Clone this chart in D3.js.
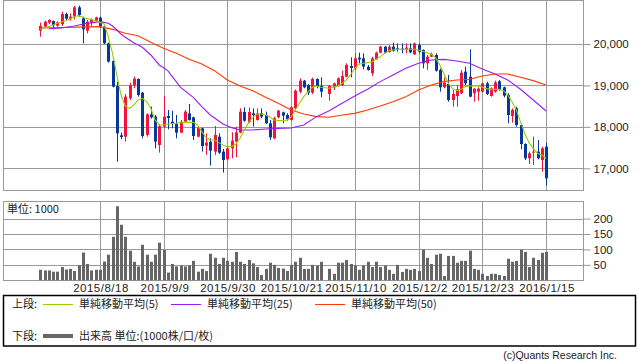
<!DOCTYPE html>
<html>
<head>
<meta charset="utf-8">
<title>日経平均 日足チャート</title>
<script src="https://cdn.jsdelivr.net/npm/d3@7"></script>
<style>
  body { margin: 0; background: #fff; }
  svg text { font-family: "Liberation Sans", Arial, sans-serif; fill: #222; }
  .jp { font-family: "Noto Sans CJK JP", sans-serif; }
</style>
</head>
<body>
<svg id="chart" width="638" height="362"></svg>
<script>
// daily candles, one slot per bar (slot 67 has no trade)
var opens = [20322,20419,20515,20555,20443,20483,20724,20604,20660,20885,
  20620,20322,20515,20563,20636,20419,20016,19590,18987,17797,
  17764,18689,19003,19156,18826,17805,18303,18247,17563,18006,
  18263,18126,18070,17861,18126,18327,18231,17764,17965,17547,
  17644,17403,17764,17403,17217,17483,17644,17861,18360,18118,
  18327,18167,18327,18287,18086,17724,18231,18351,18287,18167,
  18448,18850,19116,19011,18826,19156,18987,null,18794,18955,
  18987,19011,19212,19469,19413,19671,19654,19453,19292,19630,
  19791,19936,19807,19936,19896,19888,19872,19896,19751,19976,
  19855,19534,19695,19735,19373,18955,19035,18649,18746,18810,
  19333,19212,18810,18850,18850,19051,18746,18850,19100,18955,
  18770,18263,18448,18046,17587,17242,17378,17403,17201,17523];
var highs = [20515,20563,20596,20563,20547,20780,20756,20740,20917,20925,
  20660,20579,20620,20660,20660,20459,20032,19614,19092,17861,
  18794,19067,19212,19172,18842,18327,18488,18287,18070,18746,
  18408,18392,18287,18167,18408,18553,18247,18006,17982,17845,
  17724,18022,17845,17467,17523,17869,18006,18448,18472,18472,
  18448,18448,18448,18368,18167,18247,18408,18368,18327,18504,
  18906,19172,19132,19035,19188,19172,19196,null,19011,19067,
  19196,19357,19534,19679,19775,19791,19775,19494,19695,19815,
  19952,19952,19976,20032,20016,20016,20016,20016,20032,20016,
  19872,19735,19791,19775,19413,19196,19252,18890,19011,19373,
  19453,19872,18931,18955,19067,19092,18955,19116,19132,18971,
  18810,18448,18488,18086,17604,17403,17764,17684,17523,17620];
var lows = [20177,20386,20483,20354,20419,20435,20579,20563,20596,20660,
  20016,20258,20435,20539,20386,20000,19550,18955,17161,17700,
  17644,18649,18931,18730,17724,17764,18199,17483,17378,17965,
  17941,17965,17724,17845,18102,18150,17684,17748,17403,17322,
  17065,17322,17346,16896,17185,17242,17266,17845,18126,18086,
  18006,18150,18207,18070,17684,17700,18207,18086,18150,18150,
  18424,18810,18931,18770,18794,18931,18713,null,18633,18890,
  18971,18987,19196,19196,19373,19534,19389,19357,19228,19614,
  19775,19775,19791,19815,19815,19775,19775,19775,19735,19775,
  19413,19373,19679,19333,18850,18931,18609,18488,18488,18794,
  19011,18713,18609,18633,18826,18770,18730,18826,18874,18713,
  18086,18102,18006,17459,17201,17105,17081,17217,16920,16582];
var closes = [20435,20539,20579,20451,20523,20724,20612,20660,20885,20700,
  20354,20539,20596,20644,20419,20016,19574,18971,17845,17756,
  18730,19011,19164,18770,17780,18303,18231,17644,18022,18247,
  18215,18070,17861,18126,18368,18167,17780,17982,17539,17620,
  17427,17805,17378,17201,17483,17668,17869,18368,18150,18360,
  18287,18327,18247,18086,17748,18207,18392,18271,18183,18472,
  18874,19116,18955,18826,19156,18987,18850,null,18987,19051,
  19172,19228,19494,19421,19654,19630,19453,19373,19654,19791,
  19936,19791,19936,19839,19872,19855,19912,19799,20016,19815,
  19534,19695,19759,19357,18955,19067,18649,18794,18906,19309,
  19051,18730,18923,18923,19051,18794,18931,19075,18890,18754,
  18287,18408,18046,17587,17242,17362,17403,17242,17483,16759];
// volume, unit 1000
var volumes = [34,32,32,28,28,43,35,37,30,49,
  90,53,32,34,34,61,83,141,240,180,
  141,96,60,45,115,83,60,83,122,99,
  25,53,45,48,45,48,63,28,37,30,
  86,73,53,73,63,60,92,60,53,66,
  55,43,17,37,57,50,40,38,30,50,
  60,73,37,37,50,48,60,null,37,21,
  57,57,66,53,48,34,48,60,43,60,
  43,48,34,21,50,27,37,34,37,30,
  99,73,53,83,86,14,79,79,57,63,
  63,96,37,34,21,14,21,21,17,14,
  70,60,63,99,92,43,73,66,89,92];

// moving averages: [slot, value]
var ma5 = [[0,20354],[2,20419],[4,20499],[6,20563],[8,20660],[9,20684],[11,20612],[13,20563],
  [15,20483],[16,20177],[17,19775],[18,19252],[19,18770],[20,18504],[21,18448],[22,18528],
  [23,18649],[24,18689],[25,18609],[26,18448],[27,18167],[28,18046],[29,18046],[30,18070],
  [32,18086],[34,18110],[36,18110],[37,18046],[38,17885],[39,17748],[40,17684],[41,17684],
  [42,17620],[43,17563],[44,17523],[45,17523],[46,17587],[47,17724],[48,17925],[49,18102],
  [50,18231],[51,18311],[52,18311],[53,18287],[54,18247],[55,18167],[56,18150],[57,18150],
  [58,18167],[59,18231],[60,18408],[61,18569],[62,18730],[63,18850],[64,18955],[65,18987],
  [66,18955],[68,18931],[70,18987],[71,19051],[72,19132],[73,19252],[74,19413],[75,19510],
  [76,19534],[77,19550],[78,19566],[79,19630],[80,19695],[81,19775],[82,19839],[83,19855],
  [84,19872],[86,19872],[88,19872],[89,19855],[90,19823],[91,19791],[92,19751],[93,19671],
  [94,19494],[95,19276],[96,19051],[97,18923],[98,18874],[99,18906],[100,18971],[101,18987],
  [103,18987],[104,18955],[105,18923],[106,18906],[107,18906],[108,18906],[109,18874],
  [110,18770],[111,18609],[112,18408],[113,18126],[114,17845],[115,17620],[116,17483],
  [117,17362],[118,17322],[119,17242]];
var ma25 = [[2,20370],[5,20386],[8,20435],[11,20499],[14,20539],[16,20499],[17,20435],
  [18,20338],[19,20242],[20,20161],[22,20032],[24,19920],[26,19735],[28,19494],[30,19357],
  [33,18955],[36,18713],[38,18488],[40,18287],[43,18070],[45,17982],[47,17925],[50,17925],
  [53,17949],[56,17965],[59,17973],[62,18046],[65,18247],[68,18391],[71,18569],[74,18746],
  [77,18906],[80,19092],[83,19252],[86,19413],[89,19534],[92,19614],[95,19630],[98,19590],
  [101,19534],[104,19397],[107,19276],[110,19132],[113,18907],[116,18649],[119,18384]];
var ma50 = [[0,20386],[14,20419],[17,20354],[20,20258],[23,20201],[26,20040],[29,19896],
  [32,19775],[35,19630],[38,19518],[41,19357],[44,19132],[47,18987],[50,18874],[53,18713],
  [56,18569],[59,18408],[62,18311],[65,18247],[68,18231],[71,18287],[74,18327],[77,18408],
  [80,18504],[83,18609],[86,18730],[89,18890],[92,19011],[95,19092],[98,19132],[101,19148],
  [104,19228],[107,19276],[110,19276],[113,19196],[116,19116],[119,19011]];

var tickSlots = [14, 29, 44, 59, 74, 89, 104, 119];
var tickLabels = ["2015/8/18", "2015/9/9", "2015/9/30", "2015/10/21",
                  "2015/11/10", "2015/12/2", "2015/12/23", "2016/1/15"];
var priceTicks = [17000, 18000, 19000, 20000];
var volumeTicks = [50, 100, 150, 200];

var legendTop = ["単純移動平均(5)", "単純移動平均(25)", "単純移動平均(50)"];
var legendBottom = "出来高 単位:(1000株/口/枚)";

var upColor = "#f5123f", downColor = "#06389c";
var maColors = ["#99cc00", "#9a1cf0", "#ff3a00"];
var gridColor = "#999";

var svg = d3.select("#chart");
var left = 3.5, right = 583.5;
var mainTop = 0.5, mainBottom = 190.5;
var volTop = 201.5, volBottom = 280.5;

var x = d3.scaleLinear().domain([0, 119]).range([40.3, 546]);
var y = d3.scaleLinear().domain([16477, 21062]).range([190, 0]);
var yv = d3.scaleLinear().domain([0, 257]).range([280.3, 201]);
function px(i) { return Math.round(x(i)); }

// ---- frames and grid
var grid = svg.append("g").attr("stroke", gridColor).attr("stroke-width", 1).attr("fill", "none");
grid.selectAll(".hp").data(priceTicks).enter().append("line")
  .attr("x1", left).attr("x2", right)
  .attr("y1", function(d) { return Math.round(y(d)) + 0.5; })
  .attr("y2", function(d) { return Math.round(y(d)) + 0.5; });
grid.selectAll(".hv").data(volumeTicks).enter().append("line")
  .attr("x1", left).attr("x2", right)
  .attr("y1", function(d) { return Math.round(yv(d)) + 0.5; })
  .attr("y2", function(d) { return Math.round(yv(d)) + 0.5; });
grid.selectAll(".vm").data(tickSlots).enter().append("line")
  .attr("x1", function(d) { return px(d) + 0.5; }).attr("x2", function(d) { return px(d) + 0.5; })
  .attr("y1", mainTop).attr("y2", mainBottom);
grid.selectAll(".vv").data(tickSlots).enter().append("line")
  .attr("x1", function(d) { return px(d) + 0.5; }).attr("x2", function(d) { return px(d) + 0.5; })
  .attr("y1", volTop).attr("y2", volBottom);
grid.append("rect").attr("x", left).attr("y", mainTop)
  .attr("width", right - left).attr("height", mainBottom - mainTop);
grid.append("rect").attr("x", left).attr("y", volTop)
  .attr("width", right - left).attr("height", volBottom - volTop);

// ---- right axes
var pAxis = svg.append("g").attr("transform", "translate(" + right + ",0)")
  .call(d3.axisRight(y).tickValues(priceTicks).tickSize(7).tickPadding(3).tickFormat(d3.format(",")));
var vAxis = svg.append("g").attr("transform", "translate(" + right + ",0)")
  .call(d3.axisRight(yv).tickValues(volumeTicks).tickSize(7).tickPadding(3));
[pAxis, vAxis].forEach(function(a) {
  a.select(".domain").remove();
  a.selectAll(".tick line").attr("stroke", gridColor);
  a.selectAll(".tick text").attr("font-size", "11.5px").attr("fill", "#222")
    .attr("font-family", "'Liberation Sans', Arial, sans-serif");
});

// ---- candles
var idx = d3.range(opens.length).filter(function(i) { return opens[i] != null; });
var candles = svg.append("g");
candles.selectAll(".wick").data(idx).enter().append("line")
  .attr("x1", function(i) { return px(i) + 0.5; }).attr("x2", function(i) { return px(i) + 0.5; })
  .attr("y1", function(i) { return y(highs[i]); }).attr("y2", function(i) { return y(lows[i]); })
  .attr("stroke", function(i) { return closes[i] >= opens[i] ? upColor : downColor; })
  .attr("stroke-width", 1);
candles.selectAll(".body").data(idx).enter().append("rect")
  .attr("x", function(i) { return px(i) - 1; })
  .attr("width", 3)
  .attr("y", function(i) { return y(Math.max(opens[i], closes[i])); })
  .attr("height", function(i) { return Math.max(1, Math.abs(y(opens[i]) - y(closes[i]))); })
  .attr("fill", function(i) { return closes[i] >= opens[i] ? upColor : downColor; });

// ---- moving averages
var line = d3.line().x(function(d) { return x(d[0]); }).y(function(d) { return y(d[1]); });
[ma50, ma25, ma5].forEach(function(s, k) {
  svg.append("path").datum(s).attr("d", line)
    .attr("fill", "none").attr("stroke", maColors[2 - k]).attr("stroke-width", 1.1);
});

// ---- volume
var vIdx = d3.range(volumes.length).filter(function(i) { return volumes[i] != null; });
svg.append("g").selectAll("rect").data(vIdx).enter().append("rect")
  .attr("x", function(i) { return px(i) - 1; })
  .attr("width", 3)
  .attr("y", function(i) { return yv(volumes[i]); })
  .attr("height", function(i) { return yv(0) - yv(volumes[i]); })
  .attr("fill", "#666");

svg.append("text").attr("class", "jp").attr("x", 7).attr("y", 213)
  .attr("font-size", "11px").text("単位: 1000");

// ---- date labels
svg.append("g").selectAll("text").data(tickSlots).enter().append("text")
  .attr("x", function(d) { return px(d) + 1; })
  .attr("y", 292)
  .attr("text-anchor", "middle")
  .attr("font-size", "11.5px")
  .attr("letter-spacing", "0.5px")
  .text(function(d, i) { return tickLabels[i]; });

// ---- legend
var lg = svg.append("g");
lg.append("rect").attr("x", 3.5).attr("y", 295.5).attr("width", 632).attr("height", 50.5)
  .attr("fill", "none").attr("stroke", "#000").attr("stroke-width", 1.5);
lg.append("text").attr("class", "jp").attr("x", 12).attr("y", 308).attr("font-size", "11px").text("上段:");
lg.append("text").attr("class", "jp").attr("x", 12).attr("y", 340).attr("font-size", "11px").text("下段:");
var legX = [43, 171, 315];
legendTop.forEach(function(t, k) {
  lg.append("line").attr("x1", legX[k]).attr("x2", legX[k] + 30).attr("y1", 304.5).attr("y2", 304.5)
    .attr("stroke", maColors[k]).attr("stroke-width", 1);
  lg.append("text").attr("class", "jp").attr("x", legX[k] + 36).attr("y", 308)
    .attr("font-size", "11px").text(t);
});
lg.append("line").attr("x1", 43).attr("x2", 73).attr("y1", 336).attr("y2", 336)
  .attr("stroke", "#666").attr("stroke-width", 4);
lg.append("text").attr("class", "jp").attr("x", 79).attr("y", 340).attr("font-size", "11px").text(legendBottom);

svg.append("text").attr("x", 617).attr("y", 359).attr("text-anchor", "end")
  .attr("font-size", "10.5px").attr("fill", "#555").text("(c)Quants Research Inc.");
</script>
</body>
</html>
